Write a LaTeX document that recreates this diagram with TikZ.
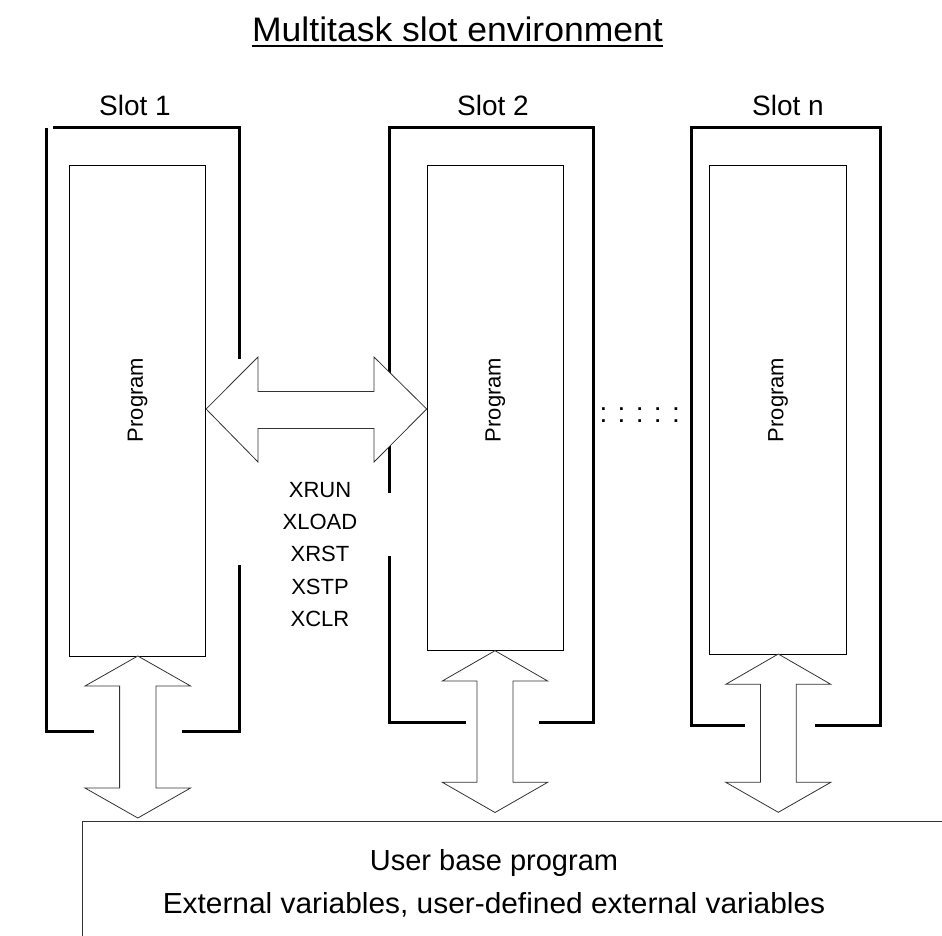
\documentclass[tikz,border=0pt]{standalone}
\usepackage{fontspec}
\setmainfont{Liberation Sans}
\begin{document}
\begin{tikzpicture}[x=1pt,y=-1pt,
  frame/.style={line width=3pt, line join=miter},
  progbox/.style={draw, line width=0.8pt, minimum width=136.4pt, inner sep=0pt},
  blockarrow/.style={draw=black!80, line width=0.8pt, fill=white, line join=miter},
  lbl/.style={font=\fontsize{28}{32}\selectfont, inner sep=0pt},
  prg/.style={font=\fontsize{22}{26}\selectfont, inner sep=0pt, rotate=90},
]
\useasboundingbox (0,0) rectangle (942,936);
\fill[white] (0,0) rectangle (942,936);

% title
\node[font=\fontsize{34}{40}\selectfont, inner sep=0pt, anchor=base] (title) at (457.5,42) {\scalebox{1.045}[1]{Multitask slot environment}};
\draw[line width=2pt] ([yshift=-4pt]title.base west) -- ([yshift=-4pt]title.base east);

% slot labels
\node[lbl] (s1) at (135,105) {Slot 1};
\node[lbl] (s2) at (493,105) {Slot 2};
\node[lbl] (sn) at (788,105) {Slot n};

% slot 1 frame
\draw[frame] (46,127.7) -- (46,731) -- (94,731);
\draw[frame] (53,127.7) -- (239,127.7) -- (239,359);
\draw[frame] (239,565) -- (239,731) -- (182,731);
% slot 2 frame
\draw[frame] (389,493) -- (389,127.7) -- (593,127.7) -- (593,722.3) -- (539,722.3);
\draw[frame] (389,556) -- (389,722.3) -- (466,722.3);
% slot n frame
\draw[frame] (745,725.7) -- (691,725.7) -- (691,127.7) -- (880,127.7) -- (880,725.7) -- (815,725.7);

% inner program boxes
\node[progbox, minimum height=490.7pt] (b1) at (137.5,410.65) {};
\node[progbox, minimum height=485.4pt] (b2) at (495.3,408) {};
\node[progbox, minimum height=488.7pt] (bn) at (778,409.65) {};
\node[prg] (p1) at (137.5,400) {Program};
\node[prg] (p2) at (495.3,400) {Program};
\node[prg] (pn) at (778,400) {Program};

% horizontal double arrow between slot 1 and slot 2
\draw[blockarrow] (b1.east |- 0,409) -- (258,357) -- (258,391.5) -- (374,391.5) -- (374,357)
  -- (b2.west |- 0,409) -- (374,462) -- (374,428.5) -- (258,428.5) -- (258,462) -- cycle;

% vertical double arrows
\newcommand\vdarr[7]{% cx, toptip, topbase, botbase, bottip, headhalf, shafthalf
  \draw[blockarrow] (#1,#2) -- ({#1+#6},#3) -- ({#1+#7},#3) -- ({#1+#7},#4) -- ({#1+#6},#4)
    -- (#1,#5) -- ({#1-#6},#4) -- ({#1-#7},#4) -- ({#1-#7},#3) -- ({#1-#6},#3) -- cycle;}
\vdarr{137.8}{656}{686}{788}{818}{52.8}{18.2}
\vdarr{495}{650.7}{681}{782.3}{812.5}{52.7}{18}
\vdarr{778.3}{654}{684.3}{782.3}{812.3}{52.5}{17.9}

% commands
\node[align=center, font=\fontsize{22}{32.2}\selectfont, inner sep=0pt] (cmds) at (320,554.4)
  {XRUN\\XLOAD\\XRST\\XSTP\\XCLR};

% dots
\node[font=\fontsize{28}{32}\selectfont, inner sep=0pt, anchor=base] (dots) at (639.7,422.7) {: : : : :};

% user base program box
\coordinate (ub) at (82,821.7);
\draw[line width=0.8pt, draw=black!80] (942,821.7) -- (ub) -- (82,936);
\node[font=\fontsize{29}{34}\selectfont, inner sep=0pt, anchor=base] (u1) at (494,870) {User base program};
\node[font=\fontsize{29}{34}\selectfont, inner sep=0pt, anchor=base] (u2) at (494,913) {\scalebox{1.03}[1]{External variables, user-defined external variables}};
\end{tikzpicture}
\end{document}
